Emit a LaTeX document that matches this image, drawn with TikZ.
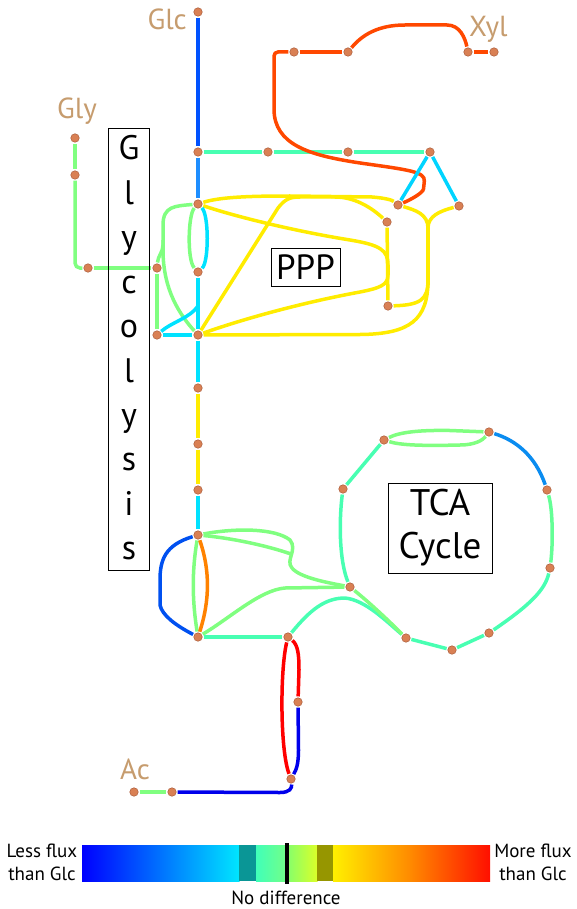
\documentclass[tikz,border=0pt]{standalone}
\usepackage{fontspec}
\setmainfont{PT Sans}
\pgfdeclarelayer{edges}
\pgfsetlayers{edges,main}
\definecolor{metfill}{RGB}{217,128,84}
\definecolor{metdraw}{RGB}{170,92,58}
\definecolor{labc}{RGB}{198,156,110}
\definecolor{cBlueA}{RGB}{0,82,255}
\definecolor{cBlueB}{RGB}{30,142,255}
\definecolor{cBlueC}{RGB}{0,80,240}
\definecolor{cBlueT}{RGB}{10,140,240}
\definecolor{cDBlue}{RGB}{0,0,235}
\definecolor{cAqua}{RGB}{72,255,178}
\definecolor{cGreen}{RGB}{128,255,128}
\definecolor{cLGreen}{RGB}{100,255,150}
\definecolor{cCyan}{RGB}{0,226,255}
\definecolor{cCyanB}{RGB}{0,212,255}
\definecolor{cYellow}{RGB}{255,236,0}
\definecolor{cOrRed}{RGB}{255,72,0}
\definecolor{cOrange}{RGB}{255,130,0}
\definecolor{cRed}{RGB}{255,0,0}
\definecolor{kBlue}{RGB}{0,0,255}
\definecolor{kCyan}{RGB}{0,230,255}
\definecolor{kTeal}{RGB}{10,150,150}
\definecolor{kAqua}{RGB}{64,255,185}
\definecolor{kGreenA}{RGB}{115,255,135}
\definecolor{kGreenB}{RGB}{130,255,110}
\definecolor{kLime}{RGB}{220,255,40}
\definecolor{kOlive}{RGB}{150,150,0}
\definecolor{kYellow}{RGB}{255,240,0}
\definecolor{kOrange}{RGB}{255,135,0}
\definecolor{kRed}{RGB}{255,15,0}
\begin{document}
\begin{tikzpicture}[x=1pt,y=-1pt,
  met/.style={circle, fill=metfill, draw=metdraw, line width=0.5pt, inner sep=0pt, minimum size=8.5pt, outer sep=1.3pt},
  flux/.style={line width=3.5pt, line cap=butt},
  lbl/.style={text=labc, font=\fontsize{29}{34}\selectfont, inner sep=0pt},
  boxed/.style={draw, line width=0.9pt, inner sep=0pt},
  legtxt/.style={font=\fontsize{19}{23}\selectfont, inner sep=0pt, align=center}]
\useasboundingbox (0,0) rectangle (576,909);
% ---------- metabolite nodes ----------
\node[met] (glc) at (198,12) {};
\node[met] (n0) at (198,152) {};
\node[met] (h1) at (268,152) {};
\node[met] (h2) at (348,152) {};
\node[met] (h3) at (430,152) {};
\node[met] (x1) at (294,52) {};
\node[met] (x2) at (348,52) {};
\node[met] (x3) at (468,52) {};
\node[met] (x4) at (494,52) {};
\node[met] (p1) at (398,205) {};
\node[met] (p2) at (459,206) {};
\node[met] (p3) at (387,222) {};
\node[met] (p4) at (388,306) {};
\node[met] (gly1) at (75,138) {};
\node[met] (gly2) at (75,175) {};
\node[met] (gly3) at (88,268) {};
\node[met] (a) at (198,204) {};
\node[met] (b) at (198,272) {};
\node[met] (c) at (157,268) {};
\node[met] (d) at (157,335) {};
\node[met] (e) at (198,335) {};
\node[met] (f) at (198,388) {};
\node[met] (g) at (198,444) {};
\node[met] (h) at (198,490) {};
\node[met] (i) at (198,535) {};
\node[met] (j) at (198,637) {};
\node[met] (k) at (288,637) {};
\node[met] (l) at (298,702) {};
\node[met] (m) at (291,779) {};
\node[met] (ac1) at (134,792) {};
\node[met] (ac2) at (172,792) {};
\node[met] (t1) at (350,587) {};
\node[met] (t2) at (343,489) {};
\node[met] (t3) at (384,440) {};
\node[met] (t4) at (489,432) {};
\node[met] (t5) at (547,490) {};
\node[met] (t6) at (550,568) {};
\node[met] (t7) at (489,633) {};
\node[met] (t8) at (452,650) {};
\node[met] (t9) at (406,638) {};
% ---------- labels ----------
\node[lbl, anchor=base east] (lglc) at (187,30) {Glc};
\node[lbl, anchor=base] (lgly) at (77,119) {Gly};
\node[lbl, anchor=base west] (lxyl) at (469,37) {Xyl};
\node[lbl, anchor=base] (lac) at (135,779) {Ac};
% ---------- boxes ----------
\node[boxed, minimum width=41pt, minimum height=442pt] (glybox) at (128.5,349) {};
\foreach \ch [count=\q] in {G,l,y,c,o,l,y,s,i,s}
  \node[anchor=base, inner sep=0pt, font=\fontsize{34}{40}\selectfont] (gl\q) at (129,{160+(\q-1)*44.4}) {\ch};
\node[boxed, minimum width=69pt, minimum height=38pt, font=\fontsize{35}{40}\selectfont] (ppp) at (305.5,267) {PPP};
\node[boxed, minimum width=104pt, minimum height=90pt, align=center, font=\fontsize{37}{43}\selectfont] (tca) at (440,528) {TCA\\Cycle};
% ---------- connectors ----------
\begin{pgfonlayer}{edges}
\draw[flux, cBlueA] (glc) -- (n0);
\draw[flux, cBlueB] (n0) -- (a);
\draw[flux, cAqua] (n0) -- (h1);
\draw[flux, cAqua] (h1) -- (h2);
\draw[flux, cAqua] (h2) -- (h3);
% xylose
\draw[flux, cOrRed] (x1) -- (x2);
\draw[flux, cOrRed] (x3) -- (x4);
\draw[flux, cOrRed] (x2) .. controls (362,35) and (378,25) .. (405,25) -- (447,25) .. controls (460,25) and (465,38) .. (x3);
\draw[flux, cOrRed, rounded corners=4pt] (x1) -- (274,52) -- (274,105) .. controls (274,145) and (310,155) .. (360,163) .. controls (410,170) and (425,172) .. (424,185) .. controls (423,193) and (410,200) .. (p1);
\draw[flux, cCyanB] (h3) -- (p1);
\draw[flux, cCyanB] (h3) -- (p2);
% PPP yellow
\draw[flux, cYellow] (a) .. controls (220,197) and (250,196) .. (290,196) -- (372,197) .. controls (385,198) and (392,200) .. (p1);
\draw[flux, cYellow] (e) -- (278,208) .. controls (285,199) and (290,197) .. (300,197) -- (335,197) .. controls (355,197) and (372,208) .. (p3);
\draw[flux, cYellow] (a) .. controls (240,218) and (300,232) .. (350,240) .. controls (380,245) and (388,250) .. (388,265) -- (388,275) .. controls (388,285) and (380,288) .. (360,292) .. controls (300,303) and (240,320) .. (e);
\draw[flux, cYellow] (p3) -- (p4);
\draw[flux, cYellow] (p1) .. controls (415,210) and (428,214) .. (428,228);
\draw[flux, cYellow] (p2) .. controls (440,211) and (428,216) .. (428,228);
\draw[flux, cYellow] (428,227) -- (428,285);
\draw[flux, cYellow] (428,280) .. controls (428,300) and (420,305) .. (p4);
\draw[flux, cYellow] (428,280) .. controls (428,320) and (410,334) .. (360,334.5) -- (e);
% upper glycolysis
\draw[flux, cGreen] (a) .. controls (188,215) and (187,260) .. (b);
\draw[flux, cCyan] (a) .. controls (209,215) and (209,262) .. (b);
\draw[flux, cGreen] (a) .. controls (175,206) and (163,206) .. (163,225) -- (163,245) .. controls (163,252) and (158,256) .. (c);
\draw[flux, cGreen] (163,240) -- (163,250) .. controls (163,290) and (180,315) .. (e);
\draw[flux, cGreen] (c) -- (d);
\draw[flux, cGreen] (gly1) -- (gly2);
\draw[flux, cGreen, rounded corners=5pt] (gly2) -- (75,268) -- (gly3);
\draw[flux, cGreen] (gly3) -- (c);
\draw[flux, cCyan] (b) -- (e);
\draw[flux, cCyan] (d) -- (e);
\draw[flux, cCyan] (d) .. controls (172,322) and (190,318) .. (198,306);
% lower glycolysis
\draw[flux, cCyan] (e) -- (f);
\draw[flux, cYellow] (f) -- (g);
\draw[flux, cYellow] (g) -- (h);
\draw[flux, cCyan] (h) -- (i);
\draw[flux, cBlueC] (i) .. controls (165,545) and (160,560) .. (160,580) -- (160,605) .. controls (162,615) and (175,625) .. (j);
\draw[flux, cGreen] (i) .. controls (192,570) and (192,600) .. (j);
\draw[flux, cOrange] (i) .. controls (210,570) and (210,600) .. (j);
\draw[flux, cGreen] (i) .. controls (235,528) and (275,528) .. (290,540) .. controls (298,550) and (285,560) .. (292,568) .. controls (300,578) and (330,583) .. (t1);
\draw[flux, cGreen] (i) .. controls (230,538) and (265,545) .. (291,554);
\draw[flux, cGreen] (j) .. controls (230,618) and (260,590) .. (285,588) -- (t1);
\draw[flux, cAqua] (j) -- (k);
\draw[flux, cAqua] (k) .. controls (310,610) and (325,598) .. (345,598) .. controls (365,600) and (385,620) .. (t9);
\draw[flux, cGreen] (t1) .. controls (370,603) and (390,622) .. (t9);
% acetate branch
\draw[flux, cRed] (k) .. controls (280,670) and (280,750) .. (m);
\draw[flux, cRed] (k) .. controls (298,645) and (299,655) .. (299,670) -- (l);
\draw[flux, cDBlue] (l) -- (298.5,750) .. controls (298.5,765) and (296,770) .. (m);
\draw[flux, cDBlue] (ac2) -- (280,792.5) .. controls (290,792.5) and (292,788) .. (m);
\draw[flux, cGreen] (ac1) -- (ac2);
% TCA cycle
\draw[flux, cAqua] (t1) .. controls (339,560) and (339,520) .. (t2);
\draw[flux, cAqua] (t2) -- (t3);
\draw[flux, cGreen] (t3) .. controls (400,432) and (420,430) .. (450,430.5) -- (t4);
\draw[flux, cGreen] (t3) .. controls (400,445) and (420,446) .. (460,445) .. controls (475,445) and (483,440) .. (t4);
\draw[flux, cBlueT] (t4) .. controls (515,440) and (535,455) .. (t5);
\draw[flux, cLGreen] (t5) .. controls (553,510) and (553,545) .. (t6);
\draw[flux, cAqua] (t6) .. controls (545,590) and (530,605) .. (t7);
\draw[flux, cAqua] (t7) -- (t8);
\draw[flux, cAqua] (t8) -- (t9);
\end{pgfonlayer}
% ---------- colour bar ----------
\fill[left color=kBlue, right color=kCyan] (82,845) rectangle (239.5,881);
\fill[kTeal] (239,845) rectangle (256.5,881);
\fill[left color=kAqua, right color=kGreenA] (256,845) rectangle (286.5,881);
\fill[left color=kGreenB, right color=kLime] (286,845) rectangle (317.5,881);
\fill[kOlive] (317,845) rectangle (333.5,881);
\fill[left color=kYellow, right color=kOrange] (333,845) rectangle (412.5,881);
\fill[left color=kOrange, right color=kRed] (412,845) rectangle (490,881);
\fill[black] (284.5,843) rectangle (288.5,884);
\node[legtxt, anchor=center] (less) at (42,862) {Less flux\\than Glc};
\node[legtxt, anchor=center] (more) at (533,862) {More flux\\than Glc};
\node[legtxt, anchor=center] (nodiff) at (286,898) {No difference};
\end{tikzpicture}
\end{document}
